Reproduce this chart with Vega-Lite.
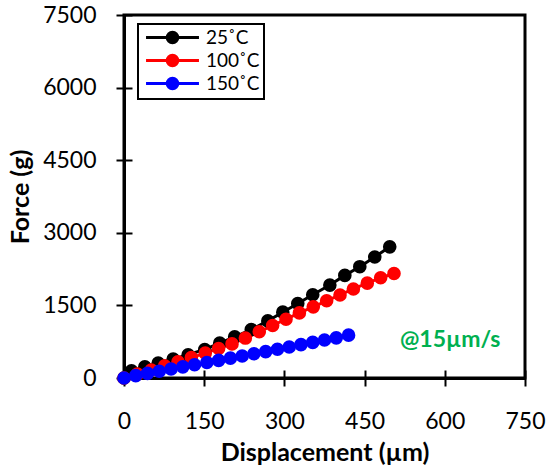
{
  "$schema": "https://vega.github.io/schema/vega-lite/v6.json",
  "autosize": {"type": "none"},
  "width": 401,
  "height": 363,
  "padding": {"left": 124, "top": 15, "right": 23, "bottom": 93},
  "background": "white",
  "config": {
    "font": "Lato",
    "view": {"stroke": "black", "strokeWidth": 3},
    "axis": {"grid": false, "labelFlush": false},
    "legend": {"strokeWidth": 2}
  },
  "datasets": {
    "series": [
      {"T": "25˚C", "d": 0, "f": 0},
      {"T": "25˚C", "d": 14, "f": 150},
      {"T": "25˚C", "d": 39, "f": 230},
      {"T": "25˚C", "d": 64, "f": 310},
      {"T": "25˚C", "d": 92, "f": 390},
      {"T": "25˚C", "d": 120, "f": 480},
      {"T": "25˚C", "d": 151, "f": 590},
      {"T": "25˚C", "d": 179, "f": 720},
      {"T": "25˚C", "d": 207, "f": 850},
      {"T": "25˚C", "d": 238, "f": 1000},
      {"T": "25˚C", "d": 269, "f": 1180},
      {"T": "25˚C", "d": 297, "f": 1360},
      {"T": "25˚C", "d": 325, "f": 1540},
      {"T": "25˚C", "d": 353, "f": 1720},
      {"T": "25˚C", "d": 385, "f": 1920},
      {"T": "25˚C", "d": 413, "f": 2120},
      {"T": "25˚C", "d": 441, "f": 2300},
      {"T": "25˚C", "d": 469, "f": 2500},
      {"T": "25˚C", "d": 497, "f": 2710},
      {"T": "100˚C", "d": 0, "f": 0},
      {"T": "100˚C", "d": 25, "f": 80},
      {"T": "100˚C", "d": 51, "f": 165},
      {"T": "100˚C", "d": 76, "f": 250},
      {"T": "100˚C", "d": 101, "f": 335},
      {"T": "100˚C", "d": 126, "f": 420},
      {"T": "100˚C", "d": 152, "f": 515},
      {"T": "100˚C", "d": 177, "f": 610},
      {"T": "100˚C", "d": 202, "f": 705},
      {"T": "100˚C", "d": 227, "f": 825},
      {"T": "100˚C", "d": 253, "f": 955},
      {"T": "100˚C", "d": 278, "f": 1085},
      {"T": "100˚C", "d": 303, "f": 1215},
      {"T": "100˚C", "d": 328, "f": 1345},
      {"T": "100˚C", "d": 354, "f": 1470},
      {"T": "100˚C", "d": 379, "f": 1595},
      {"T": "100˚C", "d": 404, "f": 1715},
      {"T": "100˚C", "d": 429, "f": 1840},
      {"T": "100˚C", "d": 455, "f": 1960},
      {"T": "100˚C", "d": 480, "f": 2070},
      {"T": "100˚C", "d": 505, "f": 2160},
      {"T": "150˚C", "d": 0, "f": 0},
      {"T": "150˚C", "d": 22, "f": 50},
      {"T": "150˚C", "d": 44, "f": 95},
      {"T": "150˚C", "d": 66, "f": 140},
      {"T": "150˚C", "d": 88, "f": 185},
      {"T": "150˚C", "d": 110, "f": 230},
      {"T": "150˚C", "d": 132, "f": 275},
      {"T": "150˚C", "d": 155, "f": 320},
      {"T": "150˚C", "d": 177, "f": 365},
      {"T": "150˚C", "d": 199, "f": 410},
      {"T": "150˚C", "d": 221, "f": 455},
      {"T": "150˚C", "d": 243, "f": 500},
      {"T": "150˚C", "d": 265, "f": 545},
      {"T": "150˚C", "d": 287, "f": 595},
      {"T": "150˚C", "d": 309, "f": 640},
      {"T": "150˚C", "d": 331, "f": 690},
      {"T": "150˚C", "d": 353, "f": 735},
      {"T": "150˚C", "d": 375, "f": 785},
      {"T": "150˚C", "d": 397, "f": 830},
      {"T": "150˚C", "d": 420, "f": 885}
    ],
    "note": [{"label": "@15µm/s", "d": 610, "f": 790}]
  },
  "layer": [
    {
      "data": {"name": "series"},
      "mark": {"type": "line", "strokeWidth": 3},
      "encoding": {
        "x": {"field": "d", "type": "quantitative", "scale": {"domain": [0, 750], "nice": false},
          "axis": {"values": [0, 150, 300, 450, 600, 750], "format": "d", "title": "Displacement (µm)", "domainWidth": 3, "domainColor": "black", "tickColor": "black", "tickWidth": 2, "tickSize": 8, "labelPadding": 24, "labelFontSize": 23, "labelColor": "black", "titleFontSize": 25, "titleFontWeight": "bold", "titleColor": "black", "titlePadding": 7}},
        "y": {"field": "f", "type": "quantitative", "scale": {"domain": [0, 7500], "nice": false},
          "axis": {"values": [0, 1500, 3000, 4500, 6000, 7500], "format": "d", "title": "Force (g)", "domainWidth": 3, "domainColor": "black", "tickColor": "black", "tickWidth": 2, "tickSize": 8, "labelPadding": 20, "labelFontSize": 23, "labelColor": "black", "titleFontSize": 25, "titleFontWeight": "bold", "titleColor": "black", "titlePadding": 9}},
        "color": {"field": "T", "type": "nominal", "scale": {"domain": ["25˚C", "100˚C", "150˚C"], "range": ["#000000", "#FF0000", "#0000FF"]},
          "legend": {
            "title": null,
            "orient": "none",
            "legendX": 14,
            "legendY": 9,
            "strokeColor": "black",
            "fillColor": "white",
            "padding": 4,
            "rowPadding": 0,
            "labelFontSize": 19,
            "labelColor": "black",
            "labelOffset": 24,
            "symbolOffset": 21,
            "symbolType": "M-4,0H4M-0.8,0A0.8,0.8,0,1,1,0.8,0A0.8,0.8,0,1,1,-0.8,0Z",
            "symbolSize": 175,
            "symbolStrokeWidth": 3,
            "symbolOpacity": 1,
            "encode": {"symbols": {"update": {"fill": {"scale": "color", "field": "value"}, "stroke": {"scale": "color", "field": "value"}}}}
          }},
        "order": {"field": "d"}
      }
    },
    {
      "data": {"name": "series"},
      "mark": {"type": "point", "filled": true, "opacity": 1, "size": 185},
      "encoding": {
        "x": {"field": "d", "type": "quantitative", "axis": null},
        "y": {"field": "f", "type": "quantitative", "axis": null},
        "color": {"field": "T", "type": "nominal"}
      }
    },
    {
      "data": {"name": "series"},
      "mark": {"type": "text", "opacity": 0},
      "encoding": {
        "x": {"field": "d", "type": "quantitative",
          "axis": {"values": [0, 150, 300, 450, 600, 750], "orient": "bottom", "offset": -8, "domain": false, "labels": false, "title": null, "tickColor": "black", "tickWidth": 2, "tickSize": 8}},
        "y": {"field": "f", "type": "quantitative",
          "axis": {"values": [0, 1500, 3000, 4500, 6000, 7500], "orient": "left", "offset": -8, "domain": false, "labels": false, "title": null, "tickColor": "black", "tickWidth": 2, "tickSize": 8}},
        "text": {"value": ""}
      }
    },
    {
      "data": {"name": "note"},
      "mark": {"type": "text", "color": "#00B050", "fontSize": 23, "fontWeight": "bold", "align": "center", "baseline": "middle"},
      "encoding": {
        "x": {"field": "d", "type": "quantitative", "axis": null},
        "y": {"field": "f", "type": "quantitative", "axis": null},
        "text": {"field": "label"}
      }
    }
  ],
  "resolve": {"axis": {"x": "independent", "y": "independent"}}
}
